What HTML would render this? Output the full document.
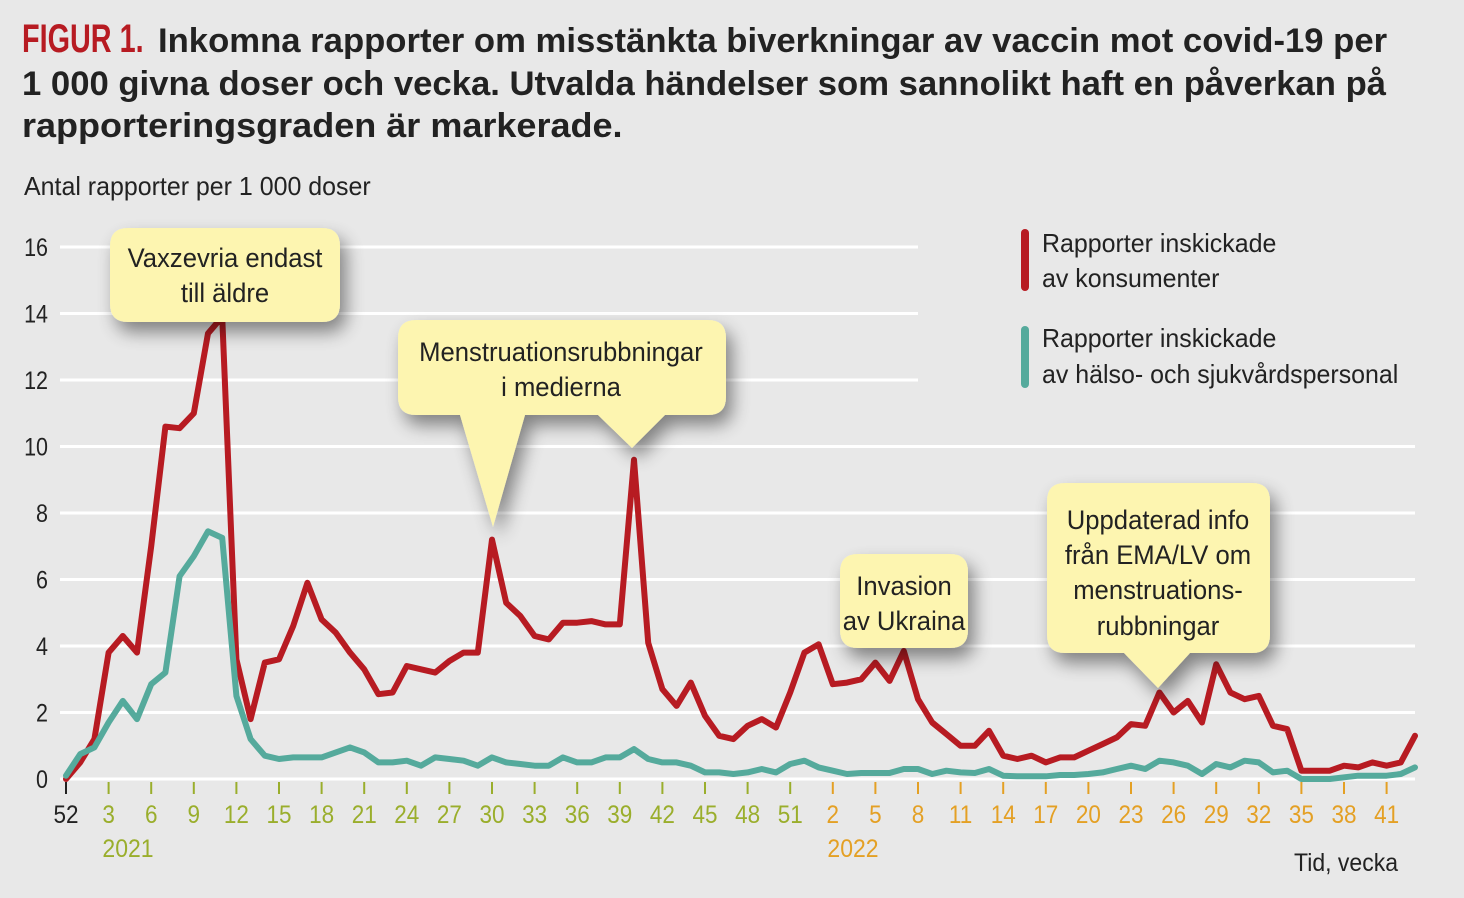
<!DOCTYPE html>
<html><head><meta charset="utf-8"><style>
html,body{margin:0;padding:0;background:#e8e8e8;}
svg{display:block;}
text{font-family:"Liberation Sans",sans-serif;}
</style></head><body>
<svg id="s" width="1464" height="898" viewBox="0 0 1464 898" xmlns="http://www.w3.org/2000/svg">
<defs>
<filter id="sh" x="-30%" y="-30%" width="160%" height="170%">
<feGaussianBlur in="SourceAlpha" stdDeviation="9"/>
<feOffset dx="6" dy="10"/>
<feComponentTransfer><feFuncA type="linear" slope="0.45"/></feComponentTransfer>
<feMerge><feMergeNode/><feMergeNode in="SourceGraphic"/></feMerge>
</filter>
</defs>
<rect width="1464" height="898" fill="#e8e8e8"/>
<g id="g"></g>
</svg>
<script>
const g=document.getElementById('g');let h='';
function T(x,y,s,size,anchor,fill,sx,weight){sx=sx||0.84;h+=`<g transform="translate(${x},${y}) scale(${sx},1)"><text x="0" y="0" font-size="${size}" text-anchor="${anchor||'start'}" fill="${fill||'#222'}" font-weight="${weight||'normal'}">${s}</text></g>`;}
// title
T(22,52,'FIGUR 1.',40,'start','#b71b22',0.72,'bold');
T(158,52,'Inkomna rapporter om misstänkta biverkningar av vaccin mot covid-19 per',34,'start','#222',1.02,'bold');
T(22,95,'1 000 givna doser och vecka. Utvalda händelser som sannolikt haft en påverkan på',34,'start','#222',1.02,'bold');
T(22,137,'rapporteringsgraden är markerade.',34,'start','#222',1.06,'bold');
T(24,195,'Antal rapporter per 1 000 doser',26,'start','#222',0.96);
const Y=v=>779-33.25*v, X=i=>66+14.2*i;
// grid
for(let v=2;v<=16;v+=2){let x2=v>=12?918:1415;h+=`<line x1="60" x2="${x2}" y1="${Y(v)}" y2="${Y(v)}" stroke="#fff" stroke-width="3"/>`;T(48,Y(v)+9,String(v),25,'end','#222',0.86);}
T(48,Y(0)+9,'0',25,'end','#222',0.86);
h+=`<line x1="60" x2="1415" y1="779" y2="779" stroke="#fff" stroke-width="3"/>`;
// ticks
for(let i=0;i<=93;i+=3){let w,c;if(i==0){w=52;c='#222'}else if(i<=52){w=i;c='#9aae2c'}else{w=i-52;c='#e4a024'}
h+=`<line x1="${X(i)}" x2="${X(i)}" y1="782" y2="794" stroke="${c}" stroke-width="2"/>`;T(X(i),823,String(w),25,'middle',c,0.9);}
T(128,857,'2021',25,'middle','#9aae2c',0.92);T(853,857,'2022',25,'middle','#e4a024',0.92);
T(1398,871,'Tid, vecka',25,'end','#222',0.92);
const red=[0,0.5,1.2,3.8,4.3,3.8,7,10.6,10.55,11,13.4,13.9,3.6,1.8,3.5,3.6,4.6,5.9,4.8,4.4,3.8,3.3,2.55,2.6,3.4,3.3,3.2,3.55,3.8,3.8,7.2,5.3,4.9,4.3,4.2,4.7,4.7,4.75,4.65,4.65,9.6,4.1,2.7,2.2,2.9,1.9,1.3,1.2,1.6,1.8,1.55,2.6,3.8,4.05,2.85,2.9,3.0,3.5,2.95,3.85,2.4,1.7,1.35,1.0,1.0,1.45,0.7,0.6,0.7,0.5,0.65,0.65,0.85,1.05,1.25,1.65,1.6,2.6,2.0,2.35,1.7,3.45,2.6,2.4,2.5,1.6,1.5,0.25,0.25,0.25,0.4,0.35,0.5,0.4,0.5,1.3];
const teal=[0.1,0.75,0.95,1.7,2.35,1.8,2.85,3.2,6.1,6.7,7.45,7.25,2.5,1.2,0.7,0.6,0.65,0.65,0.65,0.8,0.95,0.8,0.5,0.5,0.55,0.4,0.65,0.6,0.55,0.4,0.65,0.5,0.45,0.4,0.4,0.65,0.5,0.5,0.65,0.65,0.9,0.6,0.5,0.5,0.4,0.2,0.2,0.15,0.2,0.3,0.2,0.45,0.55,0.35,0.25,0.15,0.18,0.18,0.18,0.3,0.3,0.15,0.25,0.2,0.18,0.3,0.1,0.08,0.08,0.08,0.12,0.12,0.15,0.2,0.3,0.4,0.3,0.55,0.5,0.4,0.15,0.45,0.35,0.55,0.5,0.2,0.25,0,0,0,0.05,0.1,0.1,0.1,0.15,0.35];
const P=a=>a.map((v,i)=>`${X(i).toFixed(1)},${Y(v).toFixed(1)}`).join(' ');
h+=`<polyline points="${P(red)}" fill="none" stroke="#b71b22" stroke-width="6" stroke-linejoin="round" stroke-linecap="round"/>`;
h+=`<polyline points="${P(teal)}" fill="none" stroke="#55aa9c" stroke-width="6" stroke-linejoin="round" stroke-linecap="round"/>`;
// callouts
const F='#fdf5b0';
function box(x,y,w,hh,tails){let d=`M${x+18},${y} H${x+w-18} Q${x+w},${y} ${x+w},${y+18} V${y+hh-18} Q${x+w},${y+hh} ${x+w-18},${y+hh} `;
let tt=tails.slice().sort((a,b)=>b[0]-a[0]);for(const t of tt){d+=`H${t[1]} L${t[2]},${t[3]} L${t[0]},${y+hh} `;}
d+=`H${x+18} Q${x},${y+hh} ${x},${y+hh-18} V${y+18} Q${x},${y} ${x+18},${y} Z`;h+=`<path d="${d}" fill="${F}" filter="url(#sh)"/>`;}
box(110,228,230,94,[]);
box(398,320,328,95,[[460,525,493,527],[598,665,632,448]]);
box(840,554,128,94,[]);
box(1047,483,223,170,[[1124,1190,1158,688]]);
const cs=0.95;
T(225,267,'Vaxzevria endast',27,'middle','#222',cs);T(225,302,'till äldre',27,'middle','#222',cs);
T(561,361,'Menstruationsrubbningar',27,'middle','#222',cs);T(561,396,'i medierna',27,'middle','#222',cs);
T(904,595,'Invasion',27,'middle','#222',cs);T(904,630,'av Ukraina',27,'middle','#222',cs);
T(1158,529,'Uppdaterad info',27,'middle','#222',cs);T(1158,564,'från EMA/LV om',27,'middle','#222',cs);T(1158,599,'menstruations-',27,'middle','#222',cs);T(1158,635,'rubbningar',27,'middle','#222',cs);
// legend
h+=`<rect x="1021" y="229" width="8" height="62" rx="4" fill="#b71b22"/><rect x="1021" y="326" width="8" height="62" rx="4" fill="#55aa9c"/>`;
T(1042,252,'Rapporter inskickade',26,'start','#222',0.96);T(1042,287,'av konsumenter',26,'start','#222',0.96);
T(1042,347,'Rapporter inskickade',26,'start','#222',0.96);T(1042,383,'av hälso- och sjukvårdspersonal',26,'start','#222',0.96);
g.innerHTML=h;
</script>
</body></html>
